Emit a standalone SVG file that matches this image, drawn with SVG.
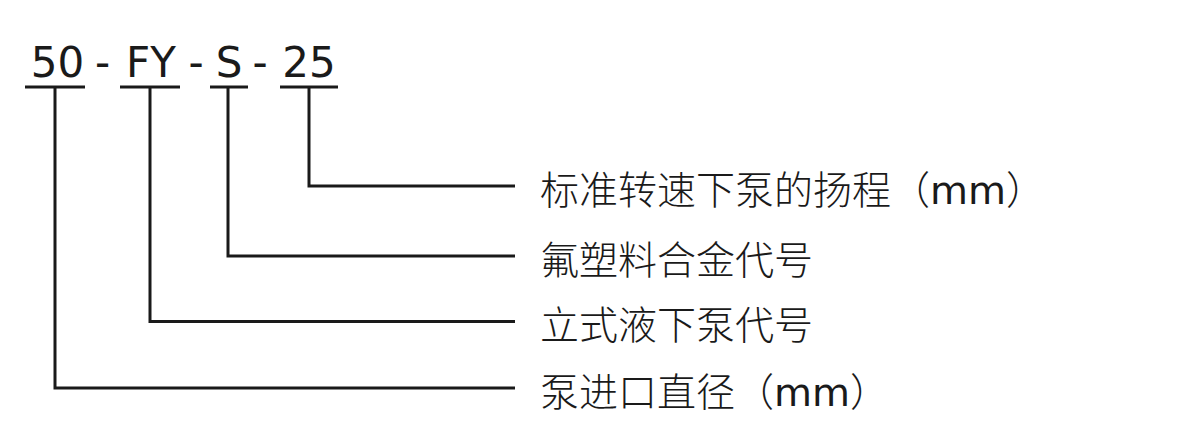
<svg xmlns="http://www.w3.org/2000/svg" width="1180" height="446" viewBox="0 0 1180 446">
<style>
.code{font-family:"DejaVu Sans","Liberation Sans",sans-serif;font-size:42px;fill:#1a1a1a;text-anchor:middle}
.lbl{font-family:"Noto Sans CJK SC",sans-serif;font-size:39px;font-weight:300;fill:#1a1a1a}
.lat{font-family:"DejaVu Sans",sans-serif;font-weight:400}
.ln{stroke:#1a1a1a;stroke-width:3;fill:none;stroke-linecap:butt;stroke-linejoin:miter}
</style>
<rect width="1180" height="446" fill="#fff"/>
<g id="code">
<text class="code" x="57.5" y="77">50</text>
<text class="code" x="102.5" y="77">-</text>
<text class="code" x="151" y="77">FY</text>
<text class="code" x="196" y="77">-</text>
<text class="code" x="229" y="77">S</text>
<text class="code" x="260" y="77">-</text>
<text class="code" x="309" y="77">25</text>
</g>
<g id="connectors" class="ln">
<line x1="25" y1="87" x2="85" y2="87"/>
<line x1="120" y1="87" x2="180" y2="87"/>
<line x1="210" y1="87" x2="248" y2="87"/>
<line x1="280" y1="87" x2="338" y2="87"/>
<polyline points="309,87 309,186 515,186"/>
<polyline points="228,87 228,256 515,256"/>
<polyline points="150,87 150,321.5 515,321.5"/>
<polyline points="55,87 55,388 515,388"/>
</g>
<g id="label-head"><text class="lbl" x="540" y="203.5">标准转速下泵的扬程（<tspan class="lat">mm</tspan>）</text></g>
<g id="label-material"><text class="lbl" x="540" y="273.5">氟塑料合金代号</text></g>
<g id="label-type"><text class="lbl" x="540" y="339">立式液下泵代号</text></g>
<g id="label-diameter"><text class="lbl" x="540" y="405.5">泵进口直径（<tspan class="lat">mm</tspan>）</text></g>
</svg>
